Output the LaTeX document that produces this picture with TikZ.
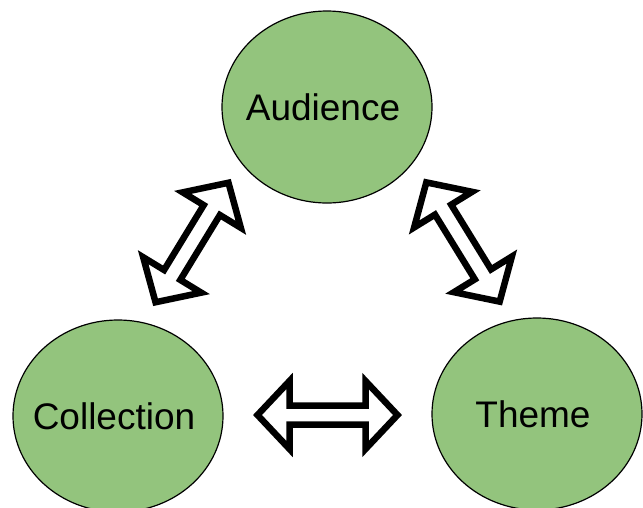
\documentclass[tikz,border=0pt]{standalone}
\usepackage{fontspec}
\setmainfont{Liberation Sans}
\usetikzlibrary{calc,shapes.geometric}
\definecolor{bubblegreen}{HTML}{93C47D}
% text set in a zero-width box, so the ellipse keeps its own size
\newcommand{\bubbletext}[1]{\makebox[0pt]{#1\hspace{8pt}}}

\begin{document}
\begin{tikzpicture}[x=1pt,y=-1pt,
    bubble/.style={ellipse,draw,line width=1.2pt,fill=bubblegreen,minimum width=210pt,minimum height=192pt,inner sep=0pt,font=\fontsize{37}{40}\selectfont},
    dblarrow/.pic={\draw[line width=6.5pt,fill=white] (-70,0) -- (-38,-34) -- (-38,-9.5) -- (38,-9.5) -- (38,-34) -- (70,0) -- (38,34) -- (38,9.5) -- (-38,9.5) -- (-38,34) -- cycle;}]
  \useasboundingbox (0,0) rectangle (643,507);
  \node[bubble] (aud) at (327,107) {\bubbletext{Audience}};
  \node[bubble] (col) at (118,416) {\bubbletext{Collection}};
  \node[bubble] (thm) at (537,414) {\bubbletext{Theme}};
  % two-way links
  \pic[rotate=58.6] at (192,242.5) {dblarrow};
  \pic[rotate=-58.4] at (463,242) {dblarrow};
  \pic at ($(col)!.5!(thm)$) {dblarrow};
\end{tikzpicture}
\end{document}
